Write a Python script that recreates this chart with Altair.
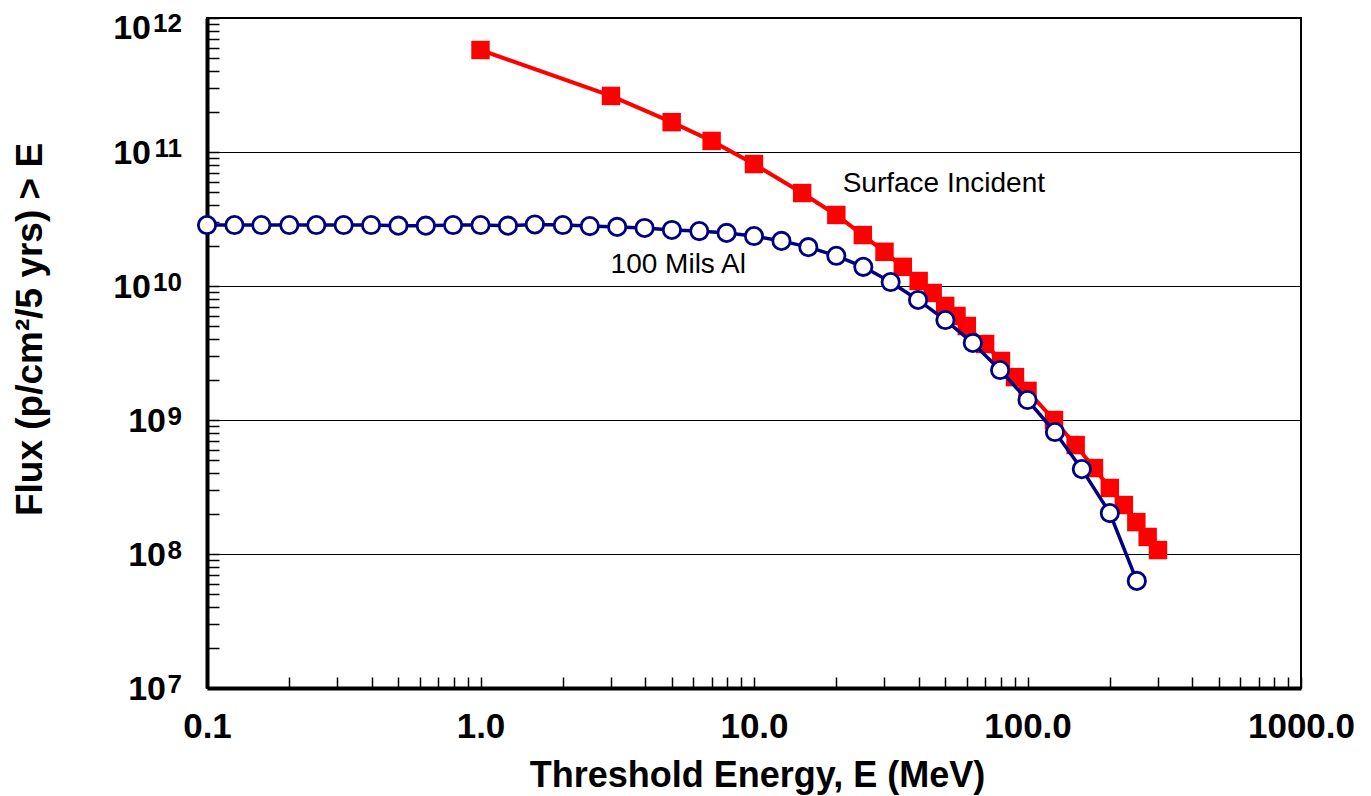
import altair as alt
import pandas as pd

# ---- data ----
energy_al = [0.1, 0.126, 0.158, 0.2, 0.251, 0.316, 0.398, 0.501, 0.631, 0.794,
             1.0, 1.26, 1.58, 2.0, 2.51, 3.16, 3.98, 5.01, 6.31, 7.94,
             10.0, 12.6, 15.8, 20.0, 25.1, 31.6, 39.8, 50.1, 63.1, 79.4,
             100.0, 126.0, 158.0, 200.0, 251.0]
flux_al = [2.85e10, 2.85e10, 2.85e10, 2.85e10, 2.85e10, 2.85e10, 2.85e10, 2.82e10, 2.82e10, 2.85e10,
           2.85e10, 2.82e10, 2.88e10, 2.85e10, 2.80e10, 2.76e10, 2.71e10, 2.62e10, 2.57e10, 2.49e10,
           2.36e10, 2.17e10, 1.95e10, 1.68e10, 1.39e10, 1.07e10, 7.87e9, 5.57e9, 3.76e9, 2.36e9,
           1.41e9, 8.13e8, 4.30e8, 2.02e8, 6.30e7]

energy_surf = [1, 3, 5, 7, 10, 15, 20, 25, 30, 35, 40, 45, 50, 55, 60, 70, 80, 90,
               100, 125, 150, 175, 200, 225, 250, 275, 300]
flux_surf = [5.77e11, 2.62e11, 1.67e11, 1.21e11, 8.13e10, 4.94e10, 3.39e10, 2.40e10, 1.80e10,
             1.39e10, 1.09e10, 8.87e9, 7.10e9, 5.97e9, 5.03e9, 3.69e9, 2.76e9, 2.09e9,
             1.65e9, 1.00e9, 6.50e8, 4.38e8, 3.11e8, 2.32e8, 1.73e8, 1.34e8, 1.07e8]

ann_text = ["Surface Incident", "100 Mils Al"]
ann_x = [21.1, 2.99]
ann_y = [5.77e10, 1.43e10]

x_major = [0.1, 1, 10, 100, 1000]
x_minor = [0.1, 0.2, 0.3, 0.4, 0.5, 0.6, 0.7, 0.8, 0.9,
           1, 2, 3, 4, 5, 6, 7, 8, 9,
           10, 20, 30, 40, 50, 60, 70, 80, 90,
           100, 200, 300, 400, 500, 600, 700, 800, 900, 1000]
y_major = [1e7, 1e8, 1e9, 1e10, 1e11, 1e12]
y_minor = [m * 10 ** e for e in range(7, 12) for m in range(1, 10)] + [1e12]
y_exp = ["7", "8", "9", "10", "11", "12"]

FONT = "Liberation Sans"
W, H = 1094, 670

surf = pd.DataFrame({"E": energy_surf, "F": flux_surf})
al = pd.DataFrame({"E": energy_al, "F": flux_al})
ann = pd.DataFrame({"t": ann_text, "E": ann_x, "F": ann_y})
labs = pd.DataFrame({"exp": y_exp})

xs = alt.Scale(type="log", domain=[0.1, 1000], nice=False)
ys = alt.Scale(type="log", domain=[1e7, 1e12], nice=False)

x_main_axis = alt.Axis(
    orient="bottom", values=x_major, labelExpr="format(datum.value, '.1f')",
    ticks=False, tickSize=0, grid=False, domain=True, domainWidth=4, domainColor="black",
    labelFont=FONT, labelFontSize=35, labelFontWeight="bold", labelColor="black",
    labelBaseline="alphabetic", labelPadding=49, labelFlush=False, labelOverlap=False,
    title="Threshold Energy, E (MeV)", titleFont=FONT, titleFontSize=36,
    titleFontWeight="bold", titleColor="black", titleBaseline="alphabetic",
    titleAlign="center", titleX=550, titleY=98,
)
y_main_axis = alt.Axis(
    orient="left", values=y_major, grid=True, gridColor="black", gridWidth=1,
    ticks=False, tickSize=0, labels=False, domain=True, domainWidth=4, domainColor="black",
    title="Flux (p/cm²/5 yrs) > E", titleFont=FONT, titleFontSize=37,
    titleFontWeight="bold", titleColor="black", titleAngle=270,
    titleBaseline="middle", titleAlign="center", titleX=-177, titleY=311,
)
x_tick_axis = alt.Axis(
    orient="top", offset=-H, values=x_minor, ticks=True, tickSize=11, tickWidth=1.5,
    tickColor="black", labels=False, domain=False, grid=False, title=None,
)
y_tick_axis = alt.Axis(
    orient="right", offset=-W, values=y_minor, ticks=True, tickSize=12, tickWidth=1.5,
    tickColor="black", labels=False, domain=False, grid=False, title=None,
)

red_line = alt.Chart(surf).mark_line(color="#FF0000", strokeWidth=4).encode(
    x=alt.X("E:Q", scale=xs, axis=x_main_axis),
    y=alt.Y("F:Q", scale=ys, axis=y_main_axis),
)
red_pts = alt.Chart(surf).mark_point(shape="square", filled=True, color="#FF0000",
                                     size=340, opacity=1).encode(
    x=alt.X("E:Q", scale=xs, axis=None),
    y=alt.Y("F:Q", scale=ys, axis=None),
)
blue_line = alt.Chart(al).mark_line(color="#000080", strokeWidth=3.5).encode(
    x=alt.X("E:Q", scale=xs, axis=x_tick_axis),
    y=alt.Y("F:Q", scale=ys, axis=y_tick_axis),
)
blue_pts = alt.Chart(al).mark_point(shape="circle", filled=False, fill="white",
                                    stroke="#000080", strokeWidth=2.8, size=300,
                                    opacity=1, fillOpacity=1).encode(
    x=alt.X("E:Q", scale=xs, axis=None),
    y=alt.Y("F:Q", scale=ys, axis=None),
)
ann_layer = alt.Chart(ann).mark_text(align="left", baseline="middle", font=FONT,
                                     fontSize=28, color="black").encode(
    x=alt.X("E:Q", scale=xs, axis=None),
    y=alt.Y("F:Q", scale=ys, axis=None),
    text="t:N",
)

def ylabel_layers(filt, base_x, shift=0):
    base = alt.Chart(labs).transform_calculate(
        v="pow(10, toNumber(datum.exp))"
    ).transform_filter(filt)
    ten = base.mark_text(align="right", baseline="alphabetic", dy=12 + shift, font=FONT,
                         fontSize=34, fontWeight="bold", color="black").encode(
        x=alt.value(base_x),
        y=alt.Y("v:Q", scale=ys, axis=None),
        text=alt.value("10"),
    )
    ex = base.mark_text(align="right", baseline="alphabetic", dy=5 + shift, font=FONT,
                        fontSize=26, fontWeight="bold", color="black").encode(
        x=alt.value(-25),
        y=alt.Y("v:Q", scale=ys, axis=None),
        text="exp:N",
    )
    return [ten, ex]

layers = ([red_line, red_pts, blue_line, blue_pts, ann_layer]
          + ylabel_layers("length(datum.exp) == 1", -41)
          + ylabel_layers("datum.exp == '10' || datum.exp == '11'", -56)
          + ylabel_layers("datum.exp == '12'", -56, shift=9))

chart = alt.layer(*layers).resolve_axis(x="independent", y="independent").properties(
    width=W, height=H,
    padding={"left": 199, "top": 10, "right": 62, "bottom": 108},
    autosize=alt.AutoSizeParams(type="none"),
    background="white",
).configure_view(stroke="black", strokeWidth=2)

chart.save("out.html", embed_options={"renderer": "svg", "actions": False})
